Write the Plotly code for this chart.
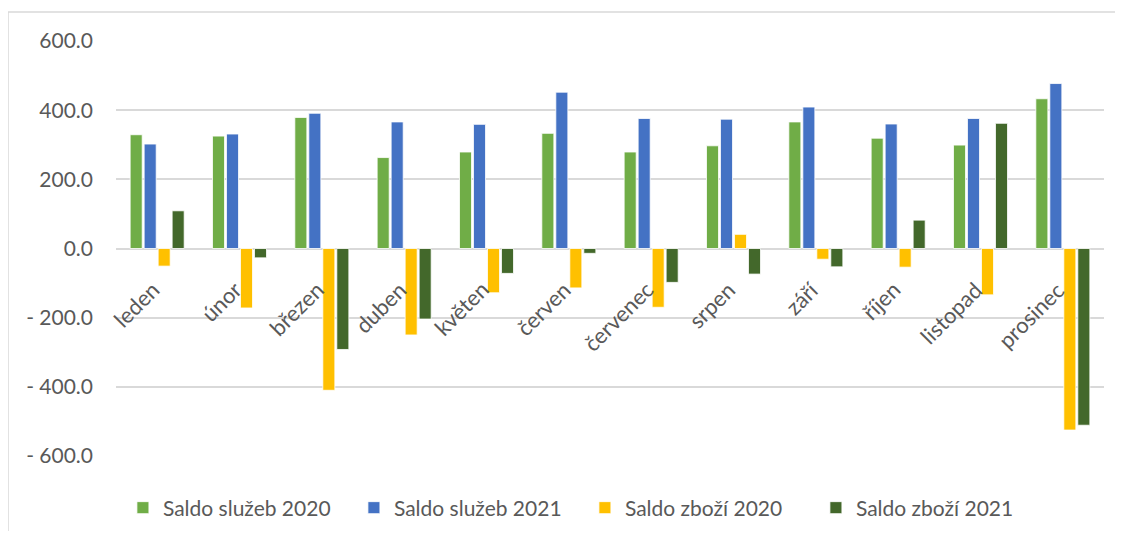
import plotly.graph_objects as go

# měsíce a salda (mil. Kč)
mesice = ["leden", "únor", "březen", "duben", "květen", "červen",
          "červenec", "srpen", "září", "říjen", "listopad", "prosinec"]
sluzby_2020 = [329, 325, 379, 263, 279, 333, 279, 297, 366, 319, 299, 433]
sluzby_2021 = [302, 331, 391, 366, 359, 452, 376, 374, 409, 360, 376, 477]
zbozi_2020 = [-51, -172, -410, -250, -128, -114, -170, 41, -31, -54, -134, -525]
zbozi_2021 = [109, -27, -292, -204, -72, -14, -98, -74, -53, 82, 362, -511]

tick_vals = [600, 400, 200, 0, -200, -400, -600]
tick_text = ["600.0", "400.0", "200.0", "0.0", "- 200.0", "- 400.0", "- 600.0"]

serie = [
    ("Saldo služeb 2020", sluzby_2020, "#70AD47"),
    ("Saldo služeb 2021", sluzby_2021, "#4472C4"),
    ("Saldo zboží 2020", zbozi_2020, "#FFC000"),
    ("Saldo zboží 2021", zbozi_2021, "#43682B"),
]

FONT = "Lato"
GREY = "#595959"

# stránka má okraj body 8 px, plocha grafu má ležet na x 116-1104, y 41-456
W, H = 1107, 523
ML, MR, MT, MB = 108, 11, 33, 75
PW, PH = W - ML - MR, H - MT - MB

fig = go.Figure()
for name, vals, color in serie:
    fig.add_trace(go.Bar(
        x=mesice,
        y=vals,
        name=name,
        marker=dict(color=color, line=dict(color="white", width=0.8)),
    ))

# popisky kategorií u nulové osy, otočené o 45°
for m in mesice:
    fig.add_annotation(
        x=m, y=0, xref="x", yref="y",
        text=m, showarrow=False,
        textangle=-45,
        xanchor="right", yanchor="top",
        xshift=10, yshift=-25,
        font=dict(family=FONT, size=22, color=GREY),
    )

# rámeček grafu (useknutý vpravo a dole jako v předloze)
fig.add_shape(
    type="rect", xref="paper", yref="paper",
    x0=-ML / PW, x1=(W + 40 - ML) / PW,
    y0=-(MB + 40) / PH, y1=(PH + MT - 4) / PH,
    line=dict(color="#D9D9D9", width=1.5),
    fillcolor="rgba(0,0,0,0)", layer="below",
)

fig.update_layout(
    width=W, height=H,
    margin=dict(l=ML, r=MR, t=MT, b=MB, autoexpand=False),
    paper_bgcolor="white", plot_bgcolor="white",
    barmode="group", bargap=0.32, bargroupgap=0.14,
    font=dict(family=FONT, size=21, color=GREY),
    showlegend=True,
    legend=dict(
        orientation="h", x=0.007, xanchor="left",
        y=-52 / PH, yanchor="middle",
        font=dict(family=FONT, size=21, color=GREY),
        entrywidth=186, entrywidthmode="pixels",
        traceorder="normal",
    ),
    xaxis=dict(range=[-0.5, len(mesice) - 0.5], autorange=False,
               showticklabels=False, showgrid=False, zeroline=False,
               showline=False, ticks=""),
    yaxis=dict(
        range=[-600, 600], autorange=False,
        tickvals=tick_vals, ticktext=tick_text,
        showgrid=True, gridcolor="#D9D9D9", gridwidth=1.5,
        zeroline=True, zerolinecolor="#D9D9D9", zerolinewidth=1.5,
        showline=False, ticks="",
        ticklabelstandoff=22,
        tickfont=dict(family=FONT, size=21, color=GREY),
    ),
)

fig.write_html("out.html")
